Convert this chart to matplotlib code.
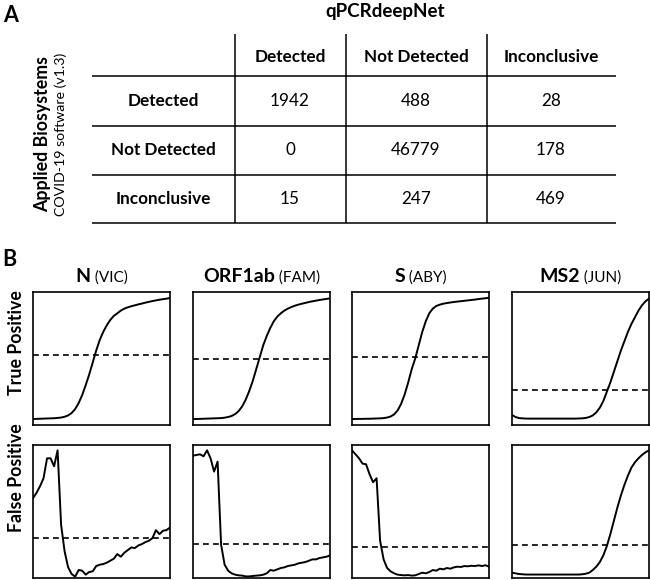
import numpy as np
import matplotlib
matplotlib.use("Agg")
import matplotlib.pyplot as plt
from matplotlib.offsetbox import TextArea, HPacker, AnnotationBbox

plt.rcParams["font.family"] = ["Lato", "DejaVu Sans"]

W, H = 650, 580

# ---- Panel A: confusion table ----
COL_LABELS = ["Detected", "Not Detected", "Inconclusive"]
ROW_LABELS = ["Detected", "Not Detected", "Inconclusive"]
COUNTS = [
    [1942, 488, 28],
    [0, 46779, 178],
    [15, 247, 469],
]

# ---- Panel B: amplification curves (cycles 1..40, normalised fluorescence) ----
CYCLES = np.arange(1, 41)
TARGETS = ["N", "ORF1ab", "S", "MS2"]
DYES = ["VIC", "FAM", "ABY", "JUN"]

tp_n = [0.045, 0.046, 0.047, 0.048, 0.049, 0.05, 0.051, 0.053, 0.056, 0.062,
        0.072, 0.09, 0.12, 0.165, 0.225, 0.3, 0.38, 0.47, 0.56, 0.64,
        0.70, 0.75, 0.79, 0.82, 0.84, 0.86, 0.875, 0.885, 0.893, 0.9,
        0.907, 0.913, 0.92, 0.926, 0.932, 0.937, 0.942, 0.946, 0.95, 0.955]
tp_orf = [0.045, 0.045, 0.046, 0.047, 0.048, 0.049, 0.05, 0.051, 0.052, 0.055,
          0.06, 0.068, 0.082, 0.105, 0.14, 0.19, 0.255, 0.33, 0.42, 0.51,
          0.6, 0.67, 0.73, 0.78, 0.815, 0.84, 0.86, 0.875, 0.887, 0.897,
          0.905, 0.912, 0.918, 0.925, 0.93, 0.935, 0.94, 0.944, 0.948, 0.952]
tp_s = [0.045, 0.045, 0.046, 0.046, 0.047, 0.047, 0.048, 0.049, 0.05, 0.052,
        0.056, 0.064, 0.08, 0.11, 0.16, 0.23, 0.32, 0.42, 0.5, 0.6,
        0.7, 0.78, 0.84, 0.875, 0.895, 0.905, 0.912, 0.917, 0.921, 0.925,
        0.928, 0.931, 0.934, 0.937, 0.94, 0.943, 0.947, 0.95, 0.953, 0.957]
tp_ms2 = [0.075, 0.06, 0.052, 0.05, 0.048, 0.048, 0.048, 0.048, 0.048, 0.048,
          0.048, 0.048, 0.048, 0.048, 0.048, 0.048, 0.048, 0.048, 0.048, 0.049,
          0.05, 0.053, 0.06, 0.072, 0.095, 0.13, 0.18, 0.25, 0.32, 0.40,
          0.48, 0.56, 0.63, 0.70, 0.76, 0.81, 0.86, 0.90, 0.93, 0.95]

fp_n = [0.6, 0.64, 0.69, 0.75, 0.9, 0.9, 0.84, 0.96, 0.4, 0.2,
        0.08, 0.03, 0.01, 0.06, 0.055, 0.025, 0.045, 0.05, 0.09, 0.1,
        0.105, 0.115, 0.13, 0.145, 0.18, 0.16, 0.19, 0.21, 0.23, 0.225,
        0.245, 0.255, 0.27, 0.28, 0.3, 0.36, 0.33, 0.355, 0.36, 0.38]
fp_orf = [0.92, 0.925, 0.93, 0.915, 0.96, 0.9, 0.8, 0.875, 0.25, 0.1,
          0.055, 0.035, 0.025, 0.02, 0.018, 0.012, 0.012, 0.015, 0.018, 0.02,
          0.025, 0.035, 0.06, 0.055, 0.065, 0.075, 0.08, 0.09, 0.095, 0.1,
          0.11, 0.115, 0.12, 0.13, 0.14, 0.14, 0.15, 0.155, 0.16, 0.17]
fp_s = [0.96, 0.93, 0.9, 0.86, 0.855, 0.78, 0.72, 0.75, 0.28, 0.14,
        0.075, 0.05, 0.035, 0.025, 0.022, 0.02, 0.022, 0.018, 0.02, 0.03,
        0.04, 0.035, 0.045, 0.06, 0.055, 0.07, 0.065, 0.075, 0.07, 0.08,
        0.085, 0.083, 0.09, 0.088, 0.092, 0.09, 0.095, 0.09, 0.096, 0.085]
fp_ms2 = [0.04, 0.035, 0.03, 0.028, 0.026, 0.026, 0.026, 0.026, 0.026, 0.026,
          0.026, 0.026, 0.026, 0.026, 0.026, 0.026, 0.026, 0.026, 0.026, 0.026,
          0.028, 0.032, 0.04, 0.06, 0.085, 0.12, 0.17, 0.24, 0.33, 0.43,
          0.53, 0.62, 0.7, 0.77, 0.83, 0.87, 0.9, 0.925, 0.945, 0.96]

TP_CURVES = [tp_n, tp_orf, tp_s, tp_ms2]
FP_CURVES = [fp_n, fp_orf, fp_s, fp_ms2]
TP_THRESH = [0.525, 0.495, 0.51, 0.2625]
FP_THRESH = [0.304, 0.255, 0.23, 0.247]

fig = plt.figure(figsize=(W / 100, H / 100), dpi=100)

# overlay axes in pixel coordinates for the table and free text
ov = fig.add_axes([0, 0, 1, 1])
ov.set_xlim(0, W)
ov.set_ylim(H, 0)
ov.axis("off")

ov.text(3, 15, "A", fontsize=15.5, fontweight="bold", va="center", ha="left")
ov.text(2, 259, "B", fontsize=15.5, fontweight="bold", va="center", ha="left")
ov.text(385, 12, "qPCRdeepNet", fontsize=13.5, fontweight="bold", ha="center", va="center")

# table grid
row_lines = [76, 126, 175, 223]
col_lines = [235, 346, 487]
for y in row_lines:
    ov.plot([92, 616], [y, y], color="black", lw=1.1, solid_capstyle="butt")
for x in col_lines:
    ov.plot([x, x], [34, 223], color="black", lw=1.1, solid_capstyle="butt")

col_x = [290, 416, 551]
row_y = [101, 150, 199]
for x, lab in zip(col_x, COL_LABELS):
    ov.text(x, 57, lab, fontsize=12.3, fontweight="bold", ha="center", va="center")
for y, lab in zip(row_y, ROW_LABELS):
    ov.text(163, y, lab, fontsize=12.3, fontweight="bold", ha="center", va="center")
for i, y in enumerate(row_y):
    for j, x in enumerate(col_x):
        ov.text(x, y, str(COUNTS[i][j]), fontsize=12.3, ha="center", va="center")

ov.text(43, 134, "Applied Biosystems", fontsize=12.8, fontweight="bold",
        rotation=90, ha="center", va="center")
ov.text(61, 134, "COVID-19 software (v1.3)", fontsize=10.2,
        rotation=90, ha="center", va="center")

ov.text(17, 343, "True Positive", fontsize=12.8, fontweight="bold",
        rotation=90, ha="center", va="center")
ov.text(17, 478, "False Positive", fontsize=12.8, fontweight="bold",
        rotation=90, ha="center", va="center")

# amplification plot boxes
lefts = [33, 193, 352, 512]
box_w = 137
rows = [(292, 425), (445, 578)]


def px_axes(l, t, r, b):
    return fig.add_axes([l / W, 1 - b / H, (r - l) / W, (b - t) / H])


for r, (top, bot) in enumerate(rows):
    curves = TP_CURVES if r == 0 else FP_CURVES
    thresh = TP_THRESH if r == 0 else FP_THRESH
    for k, l in enumerate(lefts):
        ax = px_axes(l, top, l + box_w, bot)
        ax.plot(CYCLES, curves[k], color="black", lw=1.4)
        ax.axhline(thresh[k], color="black", lw=1.2, ls=(0, (3.5, 2.5)))
        ax.set_xlim(1, 40)
        ax.set_ylim(0, 1)
        ax.set_xticks([])
        ax.set_yticks([])
        for s in ax.spines.values():
            s.set_linewidth(1.2)
        if r == 0:
            ta = TextArea(TARGETS[k], textprops=dict(fontsize=14, fontweight="bold"))
            tb = TextArea(" (" + DYES[k] + ")", textprops=dict(fontsize=11))
            pack = HPacker(children=[ta, tb], align="baseline", pad=0, sep=0)
            ab = AnnotationBbox(pack, (0.5, 1.0), xycoords="axes fraction",
                                box_alignment=(0.5, 0.0), frameon=False,
                                xybox=(0, 5), boxcoords="offset points",
                                annotation_clip=False)
            ax.add_artist(ab)

fig.savefig("out.png", dpi=100)
